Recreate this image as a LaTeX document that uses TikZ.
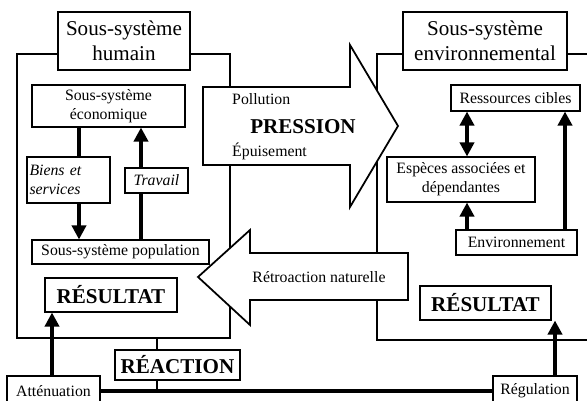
\documentclass[tikz,border=0pt]{standalone}
\usepackage{fontspec}
\setmainfont{Liberation Serif}
\usetikzlibrary{arrows.meta}
\tikzset{
	titlebox/.style={draw, line width=1pt, fill=white, align=center, inner sep=0pt, font=\fontsize{12}{14}\selectfont},
	smallbox/.style={draw, line width=0.6pt, fill=white, align=center, inner sep=0pt, font=\fontsize{9}{11}\selectfont},
	wordbox/.style={draw, line width=0.6pt, fill=white, inner sep=0pt, font=\fontsize{12}{14}\selectfont\bfseries},
	sysbox/.style={draw, line width=1pt, inner sep=0pt},
	thickarrow/.style={line width=2.2pt, -{Triangle[width=8pt,length=8pt]}},
	bigarrow/.style={draw, line width=1pt, fill=white, line join=miter},
}

\begin{document}
\begin{tikzpicture}[x=0.02cm, y=-0.02cm]
			%%%%% START %%%%%
			
			\useasboundingbox (0, 0) rectangle (587, 401);
			\clip (0, 0) rectangle (587, 401);
			
			\node[sysbox, minimum width=4.26cm, minimum height=5.68cm] (humansys) at (123.5, 196) {};
			\node[sysbox, minimum width=4.46cm, minimum height=5.72cm] (envsys) at (488.5, 197) {};
			
			\node[titlebox, minimum width=2.64cm, minimum height=1.16cm] (humain) at (124, 41) {Sous-système\\humain};
			\node[titlebox, minimum width=3.28cm, minimum height=1.16cm] (envt) at (485, 41) {Sous-système\\environnemental};
			
			\draw[bigarrow] (203, 87) -- (350, 87) -- (350, 45) -- (398, 126) -- (350, 207) -- (350, 165) -- (203, 165) -- cycle;
			\node[anchor=west, font=\fontsize{9}{11}\selectfont] (pollution) at (226, 99) {Pollution};
			\node[font=\fontsize{12}{14}\selectfont\bfseries] (pression) at (303, 127) {PRESSION};
			\node[anchor=west, font=\fontsize{9}{11}\selectfont] (epuisement) at (226, 151) {Épuisement};
			
			\draw[bigarrow] (198, 277) -- (250, 230) -- (250, 253) -- (408, 253) -- (408, 300) -- (250, 300) -- (250, 325) -- cycle;
			\node[font=\fontsize{9}{11}\selectfont] (retroaction) at (319, 277) {Rétroaction naturelle};
			
			% left side
			\coordinate (biensx) at (79, 0);
			\coordinate (travx) at (141, 0);
			\coordinate (attx) at (52, 0);
			\coordinate (reactx) at (157, 0);
			
			\node[smallbox, minimum width=3.06cm, minimum height=0.84cm] (eco) at (108.5, 106) {Sous-système\\économique};
			\node[smallbox, minimum width=3.54cm, minimum height=0.48cm] (popul) at (120.5, 252) {Sous-système population};
			\draw[thickarrow] (eco.south -| biensx) -- (popul.north -| biensx);
			\draw[thickarrow] (popul.north -| travx) -- (eco.south -| travx);
			\node[smallbox, align=left, text width=1.56cm, inner xsep=0.05cm, minimum height=0.92cm, font=\fontsize{9}{11}\selectfont\itshape] (biens) at (68.5, 180) {Biens et\\services};
			\node[smallbox, minimum width=1.26cm, minimum height=0.5cm, font=\fontsize{9}{11}\selectfont\itshape] (travail) at (156.5, 180.5) {Travail};
			\node[wordbox, minimum width=2.64cm, minimum height=0.68cm] (resL) at (111, 295) {RÉSULTAT};
			
			% bottom line
			\node[smallbox, minimum width=1.86cm, minimum height=0.6cm] (attenuation) at (53.5, 391) {Atténuation};
			\node[smallbox, minimum width=1.68cm, minimum height=0.6cm] (regulation) at (535, 391) {Régulation};
			\draw[line width=2pt] (attenuation.east) -- (regulation.west);
			\draw[line width=1.2pt] (humansys.south -| reactx) -- (attenuation.east -| reactx);
			\node[wordbox, minimum width=2.5cm, minimum height=0.6cm] (reaction) at (177.5, 365) {RÉACTION};
			\draw[thickarrow] (attenuation.north -| attx) -- (resL.south -| attx);
			
			% right side
			\coordinate (resx) at (467, 0);
			\coordinate (envx) at (565, 0);
			\coordinate (regx) at (555, 0);
			
			\node[smallbox, minimum width=2.58cm, minimum height=0.52cm] (ressources) at (515.5, 98) {Ressources cibles};
			\node[smallbox, minimum width=2.96cm, minimum height=0.9cm] (especes) at (461, 179.5) {Espèces associées et\\dépendantes};
			\node[smallbox, minimum width=2.42cm, minimum height=0.5cm] (environnement) at (516.5, 242.5) {Environnement};
			\node[wordbox, minimum width=2.62cm, minimum height=0.68cm] (resR) at (485.5, 303) {RÉSULTAT};
			\draw[thickarrow, {Triangle[width=8pt,length=8pt]}-{Triangle[width=8pt,length=8pt]}] (ressources.south -| resx) -- (especes.north -| resx);
			\draw[thickarrow] (environnement.north -| resx) -- (especes.south -| resx);
			\draw[thickarrow] (environnement.north -| envx) -- (ressources.south -| envx);
			\draw[thickarrow] (regulation.north -| regx) -- (resR.south -| regx);
			
			%%%%% END %%%%%
\end{tikzpicture}
\end{document}
